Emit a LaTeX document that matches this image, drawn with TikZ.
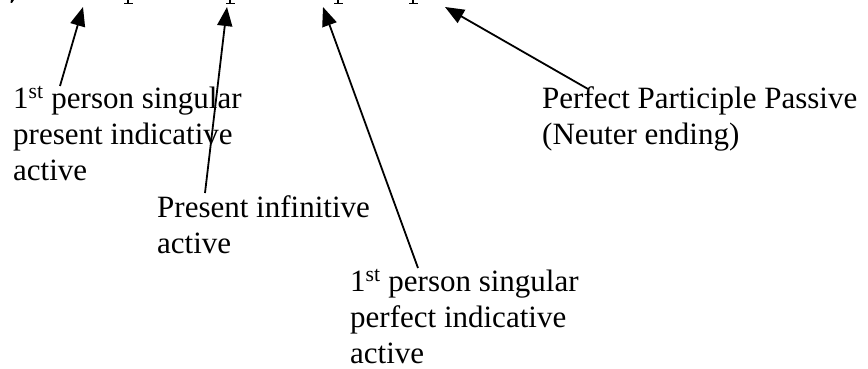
\documentclass[tikz,border=0pt]{standalone}
\usepackage{fontspec}
\setmainfont{Liberation Serif}
\usetikzlibrary{arrows.meta}
\begin{document}
\begin{tikzpicture}[x=1pt,y=-1pt,
  lbl/.style={anchor=base west,inner sep=0pt,align=left,font=\fontsize{31}{36}\selectfont},
  arr/.style={line width=1.8pt,-{Triangle[length=19pt,width=15pt]}},
  desc/.style={line width=1.4pt}]
\useasboundingbox (0,0) rectangle (868,369);
% cropped descenders of the top line
\foreach \x/\n in {128/d1,230/d2,338/d3,413/d4}{
  \fill (\x-1,0) rectangle (\x+1,4);
  \fill (\x-4.5,3) rectangle (\x+4.5,4.3);
}
\fill (11,0) -- (14,0) -- (12,3) -- (10.5,3) -- cycle;
% labels (base anchor = baseline of the last line)
\node[lbl] (A) at (13,180) {1\textsuperscript{st} person singular\\present indicative\\active};
\node[lbl] (B) at (157,253) {Present infinitive\\active};
\node[lbl] (C) at (350,363) {1\textsuperscript{st} person singular\\perfect indicative\\active};
\node[lbl] (D) at (542,144) {Perfect Participle Passive\\(Neuter ending)};
% arrow ends
\coordinate (a1s) at (60,86);
\coordinate (a1t) at (83,7);
\coordinate (a2s) at (205,193);
\coordinate (a2t) at (227,7);
\coordinate (a3s) at (418,268);
\coordinate (a3t) at (323,7);
\coordinate (a4s) at (588,89);
\coordinate (a4t) at (445,7);
\draw[arr] (a1s) -- (a1t);
\draw[arr] (a2s) -- (a2t);
\draw[arr] (a3s) -- (a3t);
\draw[arr] (a4s) -- (a4t);
\end{tikzpicture}
\end{document}
